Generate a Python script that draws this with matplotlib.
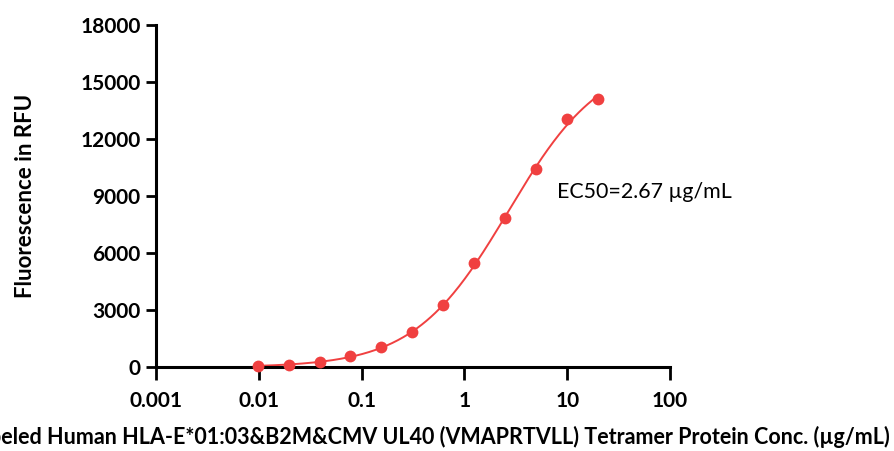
import numpy as np
import matplotlib
matplotlib.use("Agg")
import matplotlib.pyplot as plt

# data (2-fold dilution series)
conc = [0.00977, 0.0195, 0.039, 0.078, 0.156, 0.3125, 0.625, 1.25, 2.5, 5, 10, 20]
rfu = [50, 100, 250, 600, 1050, 1820, 3250, 5480, 7820, 10420, 13050, 14130]
ec50 = 2.67
yticks = [0, 3000, 6000, 9000, 12000, 15000, 18000]
xticks = [0.001, 0.01, 0.1, 1, 10, 100]
xtick_labels = ["0.001", "0.01", "0.1", "1", "10", "100"]

red = "#f04040"

# 4PL fit with EC50 fixed: linear in bottom/top for a given hill slope
x = np.array(conc)
y = np.array(rfu)
best = None
for h in np.linspace(0.5, 2.5, 401):
    s = 1 / (1 + (ec50 / x) ** h)
    A = np.column_stack([1 - s, s])
    coef, res, _, _ = np.linalg.lstsq(A, y, rcond=None)
    err = np.sum((A @ coef - y) ** 2)
    if best is None or err < best[0]:
        best = (err, h, coef)
_, hill, (bottom, top) = best
xf = np.logspace(np.log10(conc[0]), np.log10(conc[-1]), 300)
yf = bottom + (top - bottom) / (1 + (ec50 / xf) ** hill)

plt.rcParams['font.family'] = ['Lato', 'DejaVu Sans']

fig = plt.figure(figsize=(8.94, 4.51), dpi=100)
ax = fig.add_axes([0.1745, 0.1863, 0.5749, 0.7583])

ax.plot(xf, yf, color=red, lw=1.4, zorder=2)
ax.plot(conc, rfu, 'o', color=red, ms=8.5, mec='none', zorder=3, clip_on=False)

ax.set_xscale('log')
ax.set_xlim(0.001, 100)
ax.set_ylim(0, 18000)
ax.set_xticks(xticks)
ax.set_xticklabels(xtick_labels)
ax.minorticks_off()
ax.set_yticks(yticks)
ax.set_yticklabels([str(v) for v in yticks])

for s in ['top', 'right']:
    ax.spines[s].set_visible(False)
for s in ['left', 'bottom']:
    ax.spines[s].set_linewidth(2.2)
ax.tick_params(axis='x', width=2, length=9, labelsize=15, pad=8)
ax.tick_params(axis='y', width=2, length=7, labelsize=15, pad=4)
for lab in ax.get_xticklabels() + ax.get_yticklabels():
    lab.set_fontweight('bold')

ax.set_ylabel("Fluorescence in RFU", fontsize=16, fontweight='bold')
ax.yaxis.set_label_coords(-0.233, 0.5)
# the reference image crops the start of this label at the left edge
fig.text(890 / 894, 1 - 444 / 451,
         "Labeled Human HLA-E*01:03&B2M&CMV UL40 (VMAPRTVLL) Tetramer Protein Conc. (\u00b5g/mL)",
         ha='right', va='baseline', fontsize=15.5, fontweight='bold')

ax.text(557 / 894, 1 - 198 / 451, "EC50=2.67 \u00b5g/mL", transform=fig.transFigure,
        fontsize=15.4, ha='left', va='baseline')

fig.savefig("out.png", dpi=100)
